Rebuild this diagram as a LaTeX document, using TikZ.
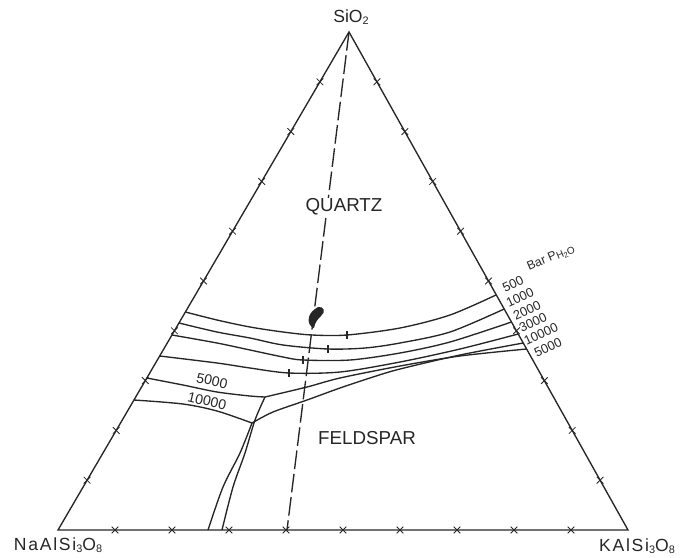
\documentclass[tikz,border=0pt]{standalone}
\usepackage{fontspec}
\usepackage{graphicx}
\setmainfont{Liberation Sans}
\usetikzlibrary{shapes.misc,calc}
\newcommand\sbs[1]{\raisebox{-0.25ex}{\scalebox{0.62}{#1}}}
\newcommand\fsz[1]{\fontsize{#1}{#1}\selectfont}
\begin{document}
\begin{tikzpicture}[x=0.03cm,y=-0.03cm,
  ink/.style={draw=black!85, line width=1.15pt},
  dashln/.style={draw=black!85, line width=1.15pt, dash pattern=on 16pt off 4pt},
  tk/.style={draw=black!85, cross out, minimum size=5pt, inner sep=0pt, line width=0.7pt},
  lbl/.style={inner sep=1pt, text=black!85},
  num/.style={lbl, inner sep=0pt, font=\fsz{11}, rotate=25},
  lnum/.style={lbl, font=\fsz{12}, rotate=-13}]
\useasboundingbox (0,0) rectangle (682,557);
\coordinate (A) at (349,32);
\coordinate (B) at (58,530);
\coordinate (C) at (628,530);
\coordinate (D) at (287,530);
% triangle
\draw[ink] (A) -- (B) -- (C) -- cycle;
\foreach \k in {1,...,9} {
  \node[tk] at ($(A)!\k/10!(B)$) {};
  \node[tk] at ($(B)!\k/10!(C)$) {};
  \node[tk] at ($(C)!\k/10!(A)$) {};
}
% join line
\draw[dashln] (A) -- (D);
% isobaric curves
\draw[ink] plot[smooth] coordinates {(185.4,312) (217,320) (250,327) (283,332) (312,335) (347,335) (400,328) (450,315) (496,295)};
\draw[ink] plot[smooth] coordinates {(179,323) (217,332) (250,338) (283,345) (328,349) (365,348) (400,343) (450,332) (504.2,309)};
\draw[ink] plot[smooth] coordinates {(172,335) (217,343) (250,350) (283,357) (303,360) (350,360) (400,353) (450,342) (511.5,322)};
\draw[ink] plot[smooth] coordinates {(159.7,356) (217,363) (250,368) (289,373) (340,372) (400,362) (460,349) (518.2,334)};
% 5000 bar
\coordinate (J5) at (265,397);
\draw[ink] plot[smooth] coordinates {(146.8,378) (183,385) (217,392) (250,396) (J5)};
\draw[ink] plot[smooth] coordinates {(J5) (307,387) (340,378) (400,366) (460,356) (526.6,349)};
\draw[ink] plot[smooth] coordinates {(J5) (255,420) (245,453) (233,487) (222,530)};
% 10000 bar
\coordinate (J10) at (252,423);
\draw[ink] plot[smooth] coordinates {(134,400) (183,404) (217,411) (J10)};
\draw[ink] plot[smooth] coordinates {(J10) (273,412) (307,400) (340,388) (373,377) (400,369) (460,355) (523.2,343)};
\draw[ink] plot[smooth] coordinates {(J10) (240,453) (223,487) (208,530)};
% minimum ticks
\draw[ink] (347,331) -- (347,339);
\draw[ink] (328,345) -- (328,353);
\draw[ink] (303,356) -- (303,364);
\draw[ink] (289,369) -- (289,377);
% blob
\fill[black!85] (318,307) .. controls (324,306) and (326,312) .. (321,316)
  .. controls (318,319) and (315,322) .. (314,328)
  .. controls (311,328) and (307,322) .. (309,317)
  .. controls (310,313) and (313,310) .. (318,307) -- cycle;
% labels
\node[lbl, font=\fsz{15}] (si) at (351,17) {SiO\sbs{2}};
\node[lbl, font=\fsz{15}\addfontfeatures{LetterSpace=10}] (ab) at (58,545) {NaAlSi\sbs{3}O\sbs{8}};
\node[lbl, font=\fsz{15}\addfontfeatures{LetterSpace=10}] (or) at (637,546) {KAlSi\sbs{3}O\sbs{8}};
\node[lbl, font=\fsz{16}, fill=white] (qz) at (344,207) {QUARTZ};
\node[lbl, font=\fsz{16}] (fs) at (367,438) {FELDSPAR};
\node[lbl, inner sep=0pt, font=\fsz{10.5}, rotate=23] (bar) at (551,258) {Bar P{\fsz{8.5}\raisebox{-0.3ex}{H\raisebox{-0.2ex}{\fsz{6.5}2}O}}};
\node[num] (n1) at (513,284) {500};
\node[num] (n2) at (520,297) {1000};
\node[num] (n3) at (527,310) {2000};
\node[num] (n4) at (533,322) {3000};
\node[num] (n5) at (541,334) {10000};
\node[num] (n6) at (548,347) {5000};
\node[lnum] (l5) at (212,381) {5000};
\node[lnum] (l10) at (207,401) {10000};
\end{tikzpicture}
\end{document}
